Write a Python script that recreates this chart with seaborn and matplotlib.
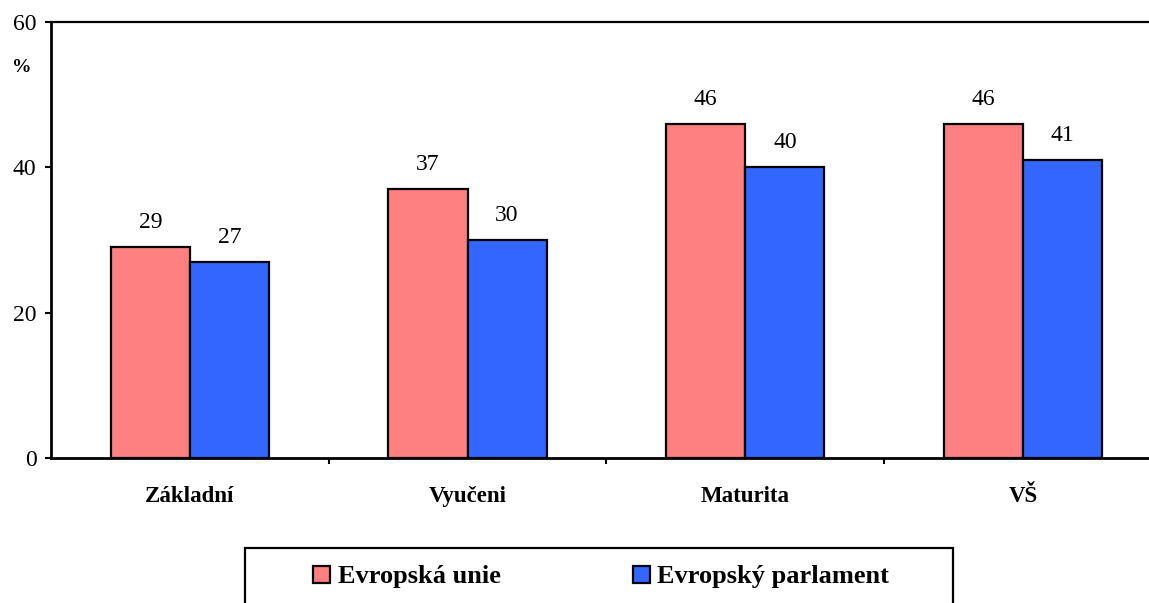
import matplotlib
matplotlib.use("Agg")
import matplotlib.pyplot as plt
from matplotlib.patches import Rectangle
import seaborn as sns
import pandas as pd

# data
kategorie = ["Základní", "Vyučeni", "Maturita", "VŠ"]
evropska_unie = [29, 37, 46, 46]
evropsky_parlament = [27, 30, 40, 41]
serie = ["Evropská unie", "Evropský parlament"]
barvy = ["#FF8080", "#3366FF"]

sns.set_theme(style="white")
plt.rcParams["font.family"] = ["Liberation Serif", "DejaVu Serif"]
plt.rcParams["text.color"] = "black"
plt.rcParams["xtick.color"] = "black"
plt.rcParams["ytick.color"] = "black"

df = pd.DataFrame({
    "kategorie": kategorie * 2,
    "hodnota": evropska_unie + evropsky_parlament,
    "serie": [serie[0]] * len(kategorie) + [serie[1]] * len(kategorie),
})

fig = plt.figure(figsize=(11.49, 6.03), dpi=100)
W, H = 1149, 603
# axes runs past the right edge, like in the reference
ax = fig.add_axes([51 / W, 1 - 458 / H, 4 * 277.7 / W, (458 - 22) / H])

sns.barplot(
    data=df, x="kategorie", y="hodnota", hue="serie",
    palette=barvy, edgecolor="black", linewidth=1.6,
    width=0.57, saturation=1, ax=ax, legend=True
)

for cont in ax.containers:
    ax.bar_label(cont, padding=10, fontsize=17, color="black")

ax.set_xlim(-0.5, 3.5)
ax.set_ylim(0, 60)
ax.set_yticks([0, 20, 40, 60])
ax.tick_params(axis="y", direction="out", length=4.5, width=1.5, labelsize=17, pad=6, left=True)
ax.tick_params(axis="x", which="major", length=0, pad=20, labelsize=16.5)
ax.set_xticks([0.5, 1.5, 2.5], minor=True)
ax.tick_params(axis="x", which="minor", direction="out", length=4.5, width=1.5, bottom=True)
for lab in ax.get_xticklabels():
    lab.set_fontweight("bold")
ax.set_xlabel("")
ax.set_ylabel("")

for s in ["left", "bottom", "top"]:
    ax.spines[s].set_visible(True)
    ax.spines[s].set_color("black")
ax.spines["left"].set_linewidth(2)
ax.spines["bottom"].set_linewidth(2)
ax.spines["top"].set_linewidth(1.6)
ax.spines["right"].set_visible(False)

fig.text(22 / W, 1 - 68 / H, "%", fontsize=14, fontweight="bold", ha="center", va="center")

# legend at the bottom, frame drawn as a box that runs off the figure
handles, labels = ax.get_legend_handles_labels()
ax.get_legend().remove()
fig.legend(
    handles, labels, ncol=2, loc="center left",
    bbox_to_anchor=(313 / W, 1 - 577 / H), frameon=False,
    prop={"weight": "bold", "size": 19}, handlelength=0.64, handleheight=0.64,
    handletextpad=0.3, columnspacing=5.0, borderpad=0, borderaxespad=0
)
fig.patches.append(Rectangle(
    (245 / W, -10 / H), (953 - 245) / W, (10 + 603 - 548) / H,
    transform=fig.transFigure, fill=False, edgecolor="black", linewidth=1.6
))

plt.savefig("out.png", dpi=100)
